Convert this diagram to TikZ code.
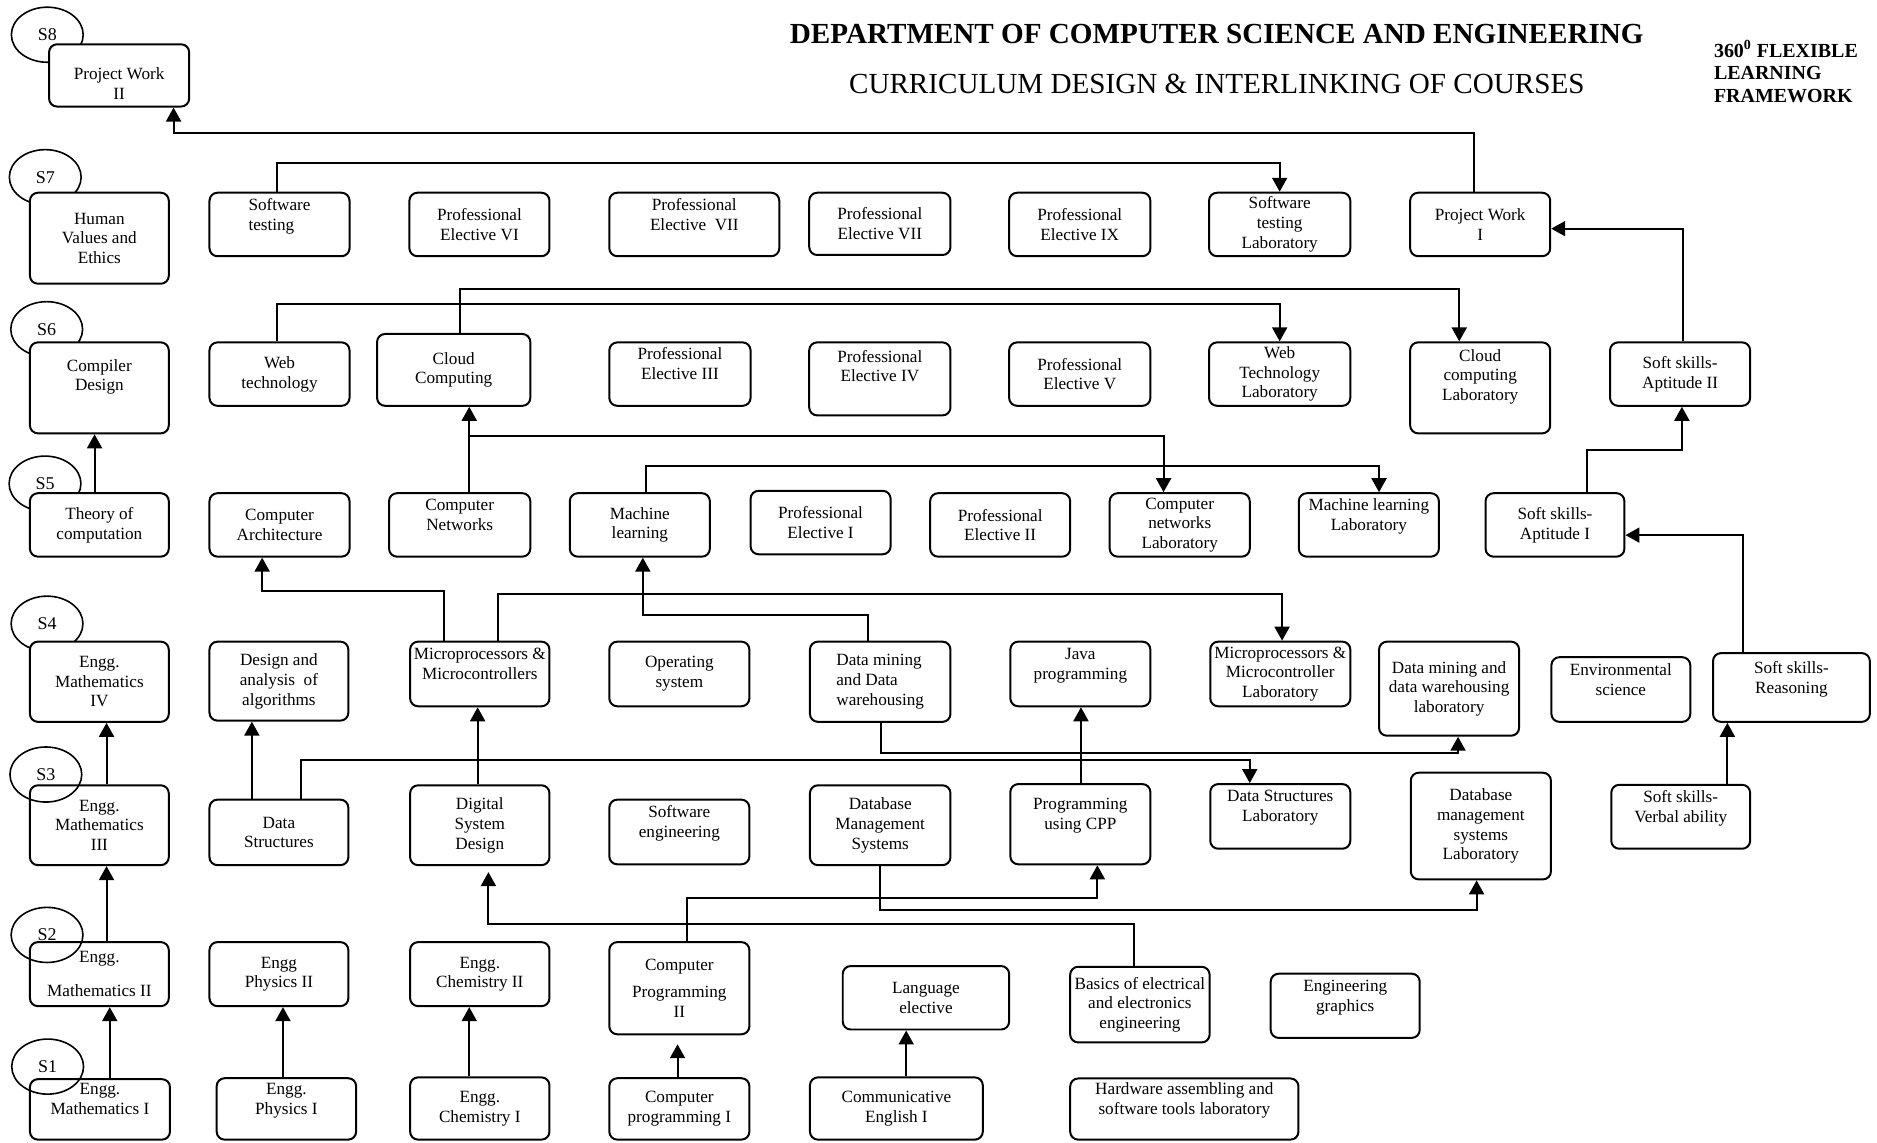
\documentclass[tikz,border=0pt]{standalone}
\usepackage{fontspec}
\setmainfont{Liberation Serif}
\usepackage{tikz}
\usetikzlibrary{arrows.meta,shapes.geometric}
\tikzset{>={Triangle[width=7.5pt,length=7pt]}}
\tikzset{crsbox/.style={draw, rounded corners=4pt, fill=white, align=center, inner sep=0.5pt, font=\fontsize{8.6}{9.9}\selectfont}}
\tikzset{semester/.style={draw, ellipse, line width=0.8pt, inner sep=0pt, minimum width=36pt, minimum height=27.6pt, font=\fontsize{9}{10}\selectfont}}

\begin{document}
\begin{tikzpicture}[x=0.6pt,y=-0.6pt,line width=1pt]

  \newcommand\crs[7][]{\node[crsbox,#1,minimum width={(#5-#3)*0.6pt},minimum height={(#6-#4)*0.6pt}] (#2) at ({(#3+#5)/2},{(#4+#6)/2}) {#7};}
  \newcommand\lift{\\[-2.5pt]\strut}

  \useasboundingbox (0,0) rectangle (1568,954);

  \node[font=\fontsize{14.6}{17}\selectfont\bfseries] (title) at (1016.5,28) {DEPARTMENT OF COMPUTER SCIENCE AND ENGINEERING};
  \node[font=\fontsize{14.6}{17}\selectfont] (subtitle) at (1016.5,70) {CURRICULUM DESIGN \& INTERLINKING OF COURSES};
  \node[font=\fontsize{10}{11.5}\selectfont\bfseries, align=left, anchor=west, inner sep=0pt] (frame) at (1431,60) {360\textsuperscript{0} FLEXIBLE\\ LEARNING\\ FRAMEWORK};

  \node[semester] (s8) at (39.5,29) {S8};
  \node[semester] (s7) at (37.8,148) {S7};
  \node[semester] (s6) at (39,275) {S6};
  \node[semester] (s5) at (37.6,404) {S5};
  \node[semester] (s4) at (39.3,521) {S4};

  % S8, S7
  \crs{pw2}{41}{37}{158}{89}{\strut\\[-3pt] Project Work\\ II}
  \crs{hve}{25}{161}{141}{237}{Human\\ Values and\\ Ethics}
  \crs[align=left]{st}{175}{161}{292}{214}{Software\\ testing\lift}
  \crs{pe6}{342}{161}{459}{214}{Professional\\ Elective VI}
  \crs{pe7}{509}{161}{651}{214}{Professional\\ Elective~ VII\lift}
  \crs{pe8}{676}{161}{794}{213}{Professional\\ Elective VII}
  \crs{pe9}{843}{161}{961}{214}{Professional\\ Elective IX}
  \crs{stl}{1010}{161}{1128}{214}{Software\\ testing\\ Laboratory}
  \crs{pw1}{1178}{161}{1295}{214}{Project Work\\ I}

  % S6
  \crs{cd}{25}{286}{141}{362}{Compiler\\ Design\\ \strut}
  \crs{wt}{175}{286}{292}{339}{Web\\ technology}
  \crs{cc}{315}{279}{443}{339}{Cloud\\ Computing}
  \crs{pe3}{509}{286}{627}{339}{Professional\\ Elective III\lift}
  \crs{pe4}{676}{286}{794}{347}{Professional\\ Elective IV\\ \strut}
  \crs{pe5}{843}{286}{961}{339}{Professional\\ Elective V}
  \crs{wtl}{1010}{286}{1128}{339}{Web\\ Technology\\ Laboratory}
  \crs{ccl}{1178}{286}{1295}{362}{Cloud\\ computing\\ Laboratory\\ \strut}
  \crs{ss2}{1345}{286}{1462}{339}{Soft skills-\\ Aptitude II}

  % S5
  \crs{toc}{25}{412}{141}{465}{Theory of\\ computation}
  \crs{ca}{175}{412}{292}{465}{Computer\\ Architecture}
  \crs{cn}{325}{412}{443}{465}{Computer\\ Networks\lift}
  \crs{ml}{476}{412}{593}{465}{Machine\\ learning}
  \crs{pe1}{627}{410}{744}{463}{Professional\\ Elective I}
  \crs{pe2}{777}{412}{894}{465}{Professional\\ Elective II}
  \crs{cnl}{927}{412}{1044}{465}{Computer\\ networks\\ Laboratory}
  \crs{mll}{1085}{412}{1202}{465}{Machine learning\\ Laboratory\lift}
  \crs{ss1}{1241}{412}{1357}{465}{Soft skills-\\ Aptitude I}

  % S4
  \crs{em4}{25}{536}{141}{603}{Engg.\\ Mathematics\\ IV}
  \crs{daa}{175}{536}{291}{602}{Design and\\ analysis\ \ of\\ algorithms}
  \crs{mm}{342.6}{536}{459}{590}{Microprocessors \&\\ Microcontrollers\lift}
  \crs{os}{509}{536}{626}{590}{Operating\\ system}
  \crs[align=left]{dmdw}{676.6}{536}{794}{603}{Data mining\\ and Data\\ warehousing}
  \crs{java}{844}{536}{961}{590}{Java\\ programming\lift}
  \crs{mml}{1011}{536}{1128}{590}{Microprocessors \&\\ Microcontroller\\ Laboratory}
  \crs{dmdwl}{1152}{536}{1269}{614.6}{Data mining and\\ data warehousing\\ laboratory}
  \crs{es}{1296}{549}{1412}{603}{Environmental\\ science\lift}
  \crs{ssr}{1431}{545.6}{1562}{603}{Soft skills-\\ Reasoning\lift}

  % S3
  \crs{em3}{25}{656}{141}{722.7}{Engg.\\ Mathematics\\ III}
  \crs{ds}{175}{668}{291}{722.7}{Data\\ Structures}
  \crs{dsd}{342.6}{656}{459}{722.7}{Digital\\ System\\ Design}
  \crs{se}{509}{668}{626}{722}{Software\\ engineering\lift}
  \crs{dbms}{676.6}{656}{794}{722.7}{Database\\ Management\\ Systems}
  \crs{cpp}{844}{655}{961}{722}{Programming\\ using CPP\lift}
  \crs{dsl}{1011}{655}{1128}{709}{Data Structures\\ Laboratory\lift}
  \crs{dbmsl}{1178.5}{645.5}{1295.6}{734.6}{Database\\ management\\ systems\\ Laboratory}
  \crs{ssv}{1346}{655.6}{1462}{709}{Soft skills-\\ Verbal ability\lift}

  % S2
  \crs{em2}{25}{787}{141}{840.5}{Engg.\\[6.9pt] Mathematics II}
  \crs{ep2}{175}{787}{291}{840.5}{Engg\\ Physics II}
  \crs{ec2}{342.6}{787}{459}{840.5}{Engg.\\ Chemistry II}
  \crs{cp2}{509}{787}{626}{864}{Computer\\[4pt] Programming\\ II}
  \crs{le}{704}{807}{843}{860}{Language\\ elective}
  \crs{beee}{894}{807.6}{1010.5}{870.8}{Basics of electrical\\ and electronics\\ engineering}
  \crs{eg}{1061.5}{813.4}{1186}{867}{Engineering\\ graphics\lift}

  % S1
  \crs{em1}{25}{901.5}{142}{952}{Engg.\\ Mathematics I\lift}
  \crs{ep1}{181}{900.7}{297.5}{952}{Engg.\\ Physics I\lift}
  \crs{ec1}{342.6}{900}{459}{952}{Engg.\\ Chemistry I}
  \crs{cp1}{509}{900.7}{626}{952}{Computer\\ programming I}
  \crs{ce1}{676.6}{900}{821}{952}{Communicative\\ English I}
  \crs{hw}{894}{900.9}{1084.7}{952}{Hardware assembling and\\ software tools laboratory\lift}

  \node[semester] (s3) at (38.3,647) {S3};
  \node[semester] (s2) at (39.3,781) {S2};
  \node[semester] (s1) at (39.8,891) {S1};

  % S7 -> S8
  \draw[->] (pw1.north -| 1231,0) |- (145,111) -- (pw2.south -| 145,0);
  % S6 -> S7
  \draw[->] (st.north -| 231,0) |- (1069,136) -- (stl.north -| 1069,0);
  \draw[->] (ss2.north -| 1406,0) |- (pw1.east |- 0,191);
  \draw[->] (wt.north -| 231,0) |- (1069,254) -- (wtl.north -| 1069,0);
  \draw[->] (cc.north -| 384,0) |- (1219,241) -- (ccl.north -| 1219,0);
  % S5 -> S6
  \draw[->] (toc.north -| 79,0) -- (cd.south -| 79,0);
  \draw[->] (cn.north -| 392,0) -- (cc.south -| 392,0);
  \draw[->] (cn.north -| 392,0) |- (972,364) -- (cnl.north -| 972,0);
  \draw[->] (ml.north -| 540,0) |- (1152,389) -- (mll.north -| 1152,0);
  \draw[->] (ss1.north -| 1326,0) |- (1405,376) -- (ss2.south -| 1405,0);
  % S4 -> S5
  \draw[->] (mm.north -| 370.6,0) |- (219,494) -- (ca.south -| 219,0);
  \draw[->] (mm.north -| 415.7,0) |- (1071,496) -- (mml.north -| 1071,0);
  \draw[->] (dmdw.north -| 725,0) |- (537,514) -- (ml.south -| 537,0);
  \draw[->] (ssr.north -| 1456,0) |- (ss1.east |- 0,447);
  % S3 -> S4
  \draw[->] (em3.north -| 89,0) -- (em4.south -| 89,0);
  \draw[->] (ds.north -| 210.4,0) -- (daa.south -| 210.4,0);
  \draw[->] (ds.north -| 251.4,0) |- (1044,635) -- (dsl.north -| 1044,0);
  \draw[->] (dsd.north -| 399,0) -- (mm.south -| 399,0);
  \draw[->] (dmdw.south -| 736,0) |- (1218,629.4) -- (dmdwl.south -| 1218,0);
  \draw[->] (cpp.north -| 903,0) -- (java.south -| 903,0);
  \draw[->] (ssv.north -| 1443,0) -- (ssr.south -| 1443,0);
  % S2 -> S3
  \draw[->] (em2.north -| 89,0) -- (em3.south -| 89,0);
  \draw[->] (cp2.north -| 573.5,0) |- (916.7,750) -- (cpp.south -| 916.7,0);
  \draw[->] (dbms.south -| 735,0) |- (1233.5,760) -- (dbmsl.south -| 1233.5,0);
  \draw[->,shorten >=3pt] (beee.north -| 947,0) |- (408,772) -- (dsd.south -| 408,0);
  % S1 -> S2
  \draw[->] (em1.north -| 91.7,0) -- (em2.south -| 91.7,0);
  \draw[->] (ep1.north -| 236.4,0) -- (ep2.south -| 236.4,0);
  \draw[->] (ec1.north -| 392,0) -- (ec2.south -| 392,0);
  \draw[->,shorten >=4.5pt] (cp1.north -| 566,0) -- (cp2.south -| 566,0);
  \draw[->] (ce1.north -| 757,0) -- (le.south -| 757,0);

\end{tikzpicture}
\end{document}
